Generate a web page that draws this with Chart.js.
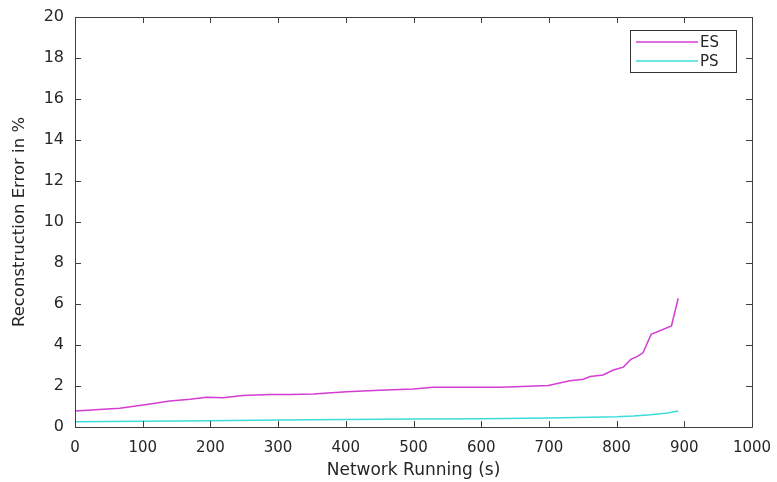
<!DOCTYPE html>
<html>
<head>
<meta charset="utf-8">
<script src="https://cdn.jsdelivr.net/npm/chart.js@4"></script>
<style>
  html, body { margin: 0; padding: 0; background: #fff; }
  #wrap { width: 777px; height: 482px; }
</style>
</head>
<body>
<div id="wrap"><canvas id="chart" width="777" height="482"></canvas></div>
<script>
// values
const esTime  = [0, 30, 66, 106, 140, 170, 194, 219, 248, 288, 318, 352, 401, 450, 500, 529, 628, 660, 699, 731, 751, 761, 780, 795, 810, 821, 830, 839, 851, 881, 891];
const esError = [0.78, 0.84, 0.91, 1.1, 1.27, 1.35, 1.45, 1.43, 1.54, 1.58, 1.58, 1.61, 1.72, 1.79, 1.85, 1.94, 1.94, 1.97, 2.03, 2.26, 2.33, 2.46, 2.54, 2.78, 2.92, 3.3, 3.43, 3.62, 4.52, 4.93, 6.28];
const psTime  = [0, 100, 200, 300, 400, 500, 600, 700, 760, 800, 825, 850, 875, 891];
const psError = [0.26, 0.28, 0.31, 0.34, 0.37, 0.39, 0.40, 0.44, 0.47, 0.50, 0.54, 0.60, 0.68, 0.78];
const xTicks = [0, 100, 200, 300, 400, 500, 600, 700, 800, 900, 1000];
const yTicks = [0, 2, 4, 6, 8, 10, 12, 14, 16, 18, 20];

const axisColor = '#404040';
const textColor = '#262626';
const fontFamily = '"DejaVu Sans", Verdana, sans-serif';

function pairs(xs, ys) {
    return xs.map((x, i) => ({ x: x, y: ys[i] }));
}

// box round the plot plus inward tick marks on all four sides
const boxPlugin = {
    id: 'box',
    afterDraw(chart) {
        const ctx = chart.ctx;
        const a = chart.chartArea;
        const xs = chart.scales.x, ys = chart.scales.y;
        const len = 6;
        ctx.save();
        ctx.strokeStyle = axisColor;
        ctx.lineWidth = 1;
        ctx.beginPath();
        ctx.rect(a.left + 0.5, a.top + 0.5, a.right - a.left, a.bottom - a.top);
        xTicks.forEach(t => {
            const px = Math.round(xs.getPixelForValue(t)) + 0.5;
            ctx.moveTo(px, a.bottom); ctx.lineTo(px, a.bottom - len);
            ctx.moveTo(px, a.top); ctx.lineTo(px, a.top + len);
        });
        yTicks.forEach(t => {
            const py = Math.round(ys.getPixelForValue(t)) + 0.5;
            ctx.moveTo(a.left, py); ctx.lineTo(a.left + len, py);
            ctx.moveTo(a.right, py); ctx.lineTo(a.right - len, py);
        });
        ctx.stroke();

        // legend box, MATLAB style
        const bx = 630, by = 30, bw = 106, bh = 42;
        ctx.fillStyle = '#fff';
        ctx.fillRect(bx, by, bw, bh);
        ctx.strokeStyle = '#333';
        ctx.strokeRect(bx + 0.5, by + 0.5, bw, bh);
        ctx.font = '15px ' + fontFamily;
        ctx.textBaseline = 'middle';
        chart.data.datasets.forEach((ds, i) => {
            const ly = by + 12 + i * 19;
            ctx.strokeStyle = ds.borderColor;
            ctx.lineWidth = 1.5;
            ctx.beginPath();
            ctx.moveTo(bx + 6, ly); ctx.lineTo(bx + 68, ly);
            ctx.stroke();
            ctx.fillStyle = textColor;
            ctx.fillText(ds.label, bx + 70, ly + 1);
        });
        ctx.restore();
    }
};

new Chart(document.getElementById('chart'), {
    type: 'line',
    data: {
        datasets: [{
            label: 'ES',
            data: pairs(esTime, esError),
            borderColor: '#d43cd4',
            borderWidth: 1.5,
            pointRadius: 0,
            tension: 0
        }, {
            label: 'PS',
            data: pairs(psTime, psError),
            borderColor: '#3cdcdc',
            borderWidth: 1.5,
            pointRadius: 0,
            tension: 0
        }]
    },
    options: {
        responsive: false,
        animation: false,
        layout: { padding: { top: 17, right: 25, left: 0, bottom: 0 } },
        plugins: { legend: { display: false }, tooltip: { enabled: false } },
        scales: {
            x: {
                type: 'linear',
                min: 0,
                max: 1000,
                afterFit(s) {
                    s.height = 55;
                    s.paddingLeft = 0;
                    s.paddingRight = 0;
                },
                afterBuildTicks(s) { s.ticks = xTicks.map(v => ({ value: v })); },
                grid: { display: false, drawTicks: false },
                border: { display: false },
                ticks: {
                    padding: 12, color: textColor, maxRotation: 0,
                    font: { family: fontFamily, size: 15 },
                    callback: v => String(v)
                },
                title: {
                    display: true,
                    text: 'Network Running (s)',
                    color: textColor,
                    font: { family: fontFamily, size: 17 },
                    padding: { top: 0, bottom: 1 }
                }
            },
            y: {
                type: 'linear',
                min: 0,
                max: 20,
                afterFit(s) {
                    s.width = 75;
                    s.paddingTop = 0;
                    s.paddingBottom = 0;
                },
                afterBuildTicks(s) { s.ticks = yTicks.map(v => ({ value: v })); },
                grid: { display: false, drawTicks: false },
                border: { display: false },
                ticks: {
                    padding: 11, color: textColor,
                    font: { family: fontFamily, size: 16 },
                    callback: v => String(v)
                },
                title: {
                    display: true,
                    text: 'Reconstruction Error in %',
                    color: textColor,
                    font: { family: fontFamily, size: 16.5 },
                    padding: { top: 10, bottom: 0 }
                }
            }
        }
    },
    plugins: [boxPlugin]
});
</script>
</body>
</html>
